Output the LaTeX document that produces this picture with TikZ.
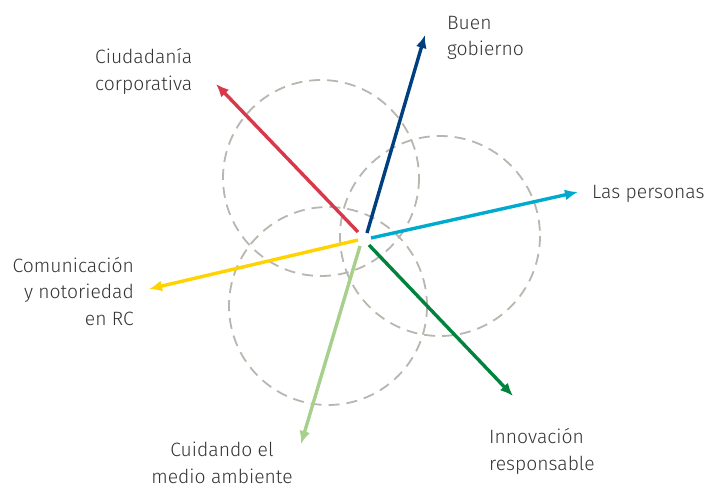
\documentclass[tikz,border=0pt]{standalone}
\usepackage{fontspec}
\setmainfont{Fira Sans}[UprightFont=* Light]
\usepackage{tikz}
\usetikzlibrary{arrows.meta}
\usetikzlibrary{positioning}
\definecolor{ringgray}{HTML}{B8B6AE}
\definecolor{gobblue}{HTML}{003F7F}
\definecolor{ciured}{HTML}{D9374A}
\definecolor{perscyan}{HTML}{00A9CE}
\definecolor{comyellow}{HTML}{FFD200}
\definecolor{medgreen}{HTML}{A8D08D}
\definecolor{innogreen}{HTML}{00843D}
\tikzset{
	ring/.style={draw=ringgray,line width=1.8pt,dash pattern=on 11pt off 7pt},
	axis/.style={line width=3.4pt},
	label/.style={font=\fontsize{19.3}{26.5}\selectfont,text=black!80,inner sep=0pt}
}

\begin{document}
\begin{tikzpicture}[x=1pt,y=-1pt,-{Latex[length=13pt,width=11pt]}]
            \useasboundingbox (0,0) rectangle (717,487);
            % rings
            \draw [ring,-] (321,178) circle (98);
            \draw [ring,-] (440,236) circle (100);
            \draw [ring,-] (328,306) circle (99);
            % starts
            \coordinate (s1) at (367,233);
            \coordinate (s2) at (358,232);
            \coordinate (s3) at (371,238);
            \coordinate (s4) at (358,240);
            \coordinate (s5) at (360,246);
            \coordinate (s6) at (369,245);
            % ends
            \coordinate (e1) at (425,35);
            \coordinate (e2) at (216,84);
            \coordinate (e3) at (578,192);
            \coordinate (e4) at (149,289);
            \coordinate (e5) at (301,444);
            \coordinate (e6) at (513,396);
            \draw [axis,gobblue] (s1) -- (e1);
            \draw [axis,ciured] (s2) -- (e2);
            \draw [axis,perscyan] (s3) -- (e3);
            \draw [axis,comyellow] (s4) -- (e4);
            \draw [axis,medgreen] (s5) -- (e5);
            \draw [axis,innogreen] (s6) -- (e6);
            % labels (base = last line)
            \node [label,align=left,anchor=base west] (gob) at (447,56) {Buen\\gobierno};
            \node [label,align=left,anchor=base west] (ciu) at (95,90) {Ciudadanía\\corporativa};
            \node [label,align=left,anchor=base west] (per) at (592,198) {Las personas};
            \node [label,align=right,anchor=base east] (com) at (134,325) {Comunicación\\y notoriedad\\en RC};
            \node [label,align=center,anchor=base] (cui) at (222,483) {Cuidando el\\medio ambiente};
            \node [label,align=left,anchor=base west] (inn) at (489,470) {Innovación\\responsable};
\end{tikzpicture}
\end{document}
